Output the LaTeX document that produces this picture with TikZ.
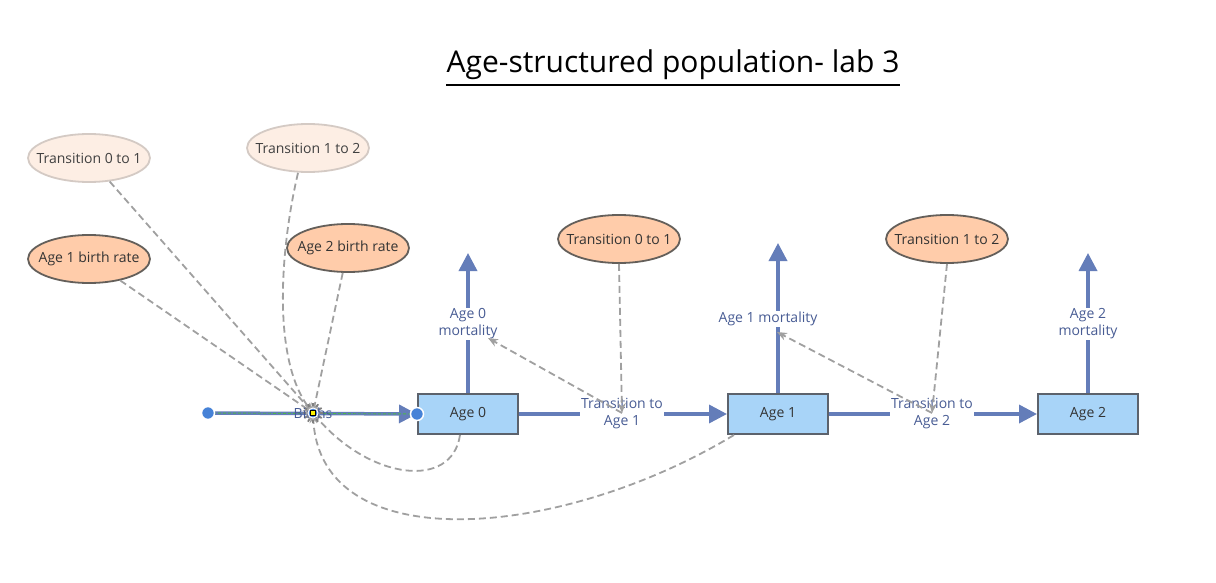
\documentclass[tikz,border=0pt]{standalone}
\usepackage{fontspec}
\setmainfont{Open Sans}
\usetikzlibrary{arrows.meta,shapes.geometric}
\definecolor{flowblue}{RGB}{100,125,185}
\definecolor{labelblue}{RGB}{72,92,148}
\definecolor{boxfill}{RGB}{168,212,248}
\definecolor{boxdraw}{RGB}{92,98,108}
\definecolor{peach}{RGB}{255,204,170}
\definecolor{peachdraw}{RGB}{100,95,90}
\definecolor{fadefill}{RGB}{253,238,228}
\definecolor{fadedraw}{RGB}{212,202,196}
\definecolor{dashgray}{RGB}{160,160,160}
\definecolor{dotblue}{RGB}{70,130,215}
\newcommand{\lblfont}{\fontsize{14}{17}\selectfont}
\tikzset{
  stock/.style={rectangle,draw=boxdraw,fill=boxfill,line width=2pt,minimum width=100pt,minimum height=40pt,inner sep=0pt,font=\lblfont,text=black!80},
  conv/.style={ellipse,draw=peachdraw,fill=peach,line width=1.8pt,minimum width=122pt,minimum height=48pt,inner xsep=-14pt,inner ysep=0pt,font=\lblfont,text=black!80},
  ghost/.style={ellipse,draw=fadedraw,fill=fadefill,line width=1.8pt,minimum width=122pt,minimum height=48pt,inner xsep=-14pt,inner ysep=0pt,font=\lblfont,text=black!75},
  flowlabel/.style={fill=white,inner sep=1pt,align=center,text=labelblue,font=\lblfont},
  flowline/.style={draw=flowblue,line width=3.5pt},
  flowarrow/.style={flowline,-{Triangle[length=18pt,width=18pt]}},
  link/.style={draw=dashgray,line width=1.8pt,dash pattern=on 7pt off 4pt,-{Stealth[length=10pt,width=8pt]}},
  enddot/.style={circle,fill=dotblue,draw=white,line width=1.5pt,minimum size=13pt,inner sep=0pt},
}
\begin{document}
\begin{tikzpicture}[x=1pt,y=-1pt]
\useasboundingbox (0,0) rectangle (1216,583);
% title
\node[inner sep=0pt] (title) at (673,65) {\fontsize{30}{33}\selectfont Age-structured population- lab 3};
\draw[line width=2.2pt] ([yshift=-5pt]title.south west) -- ([yshift=-5pt]title.south east);
% stocks
\node[stock] (a0) at (468,414) {Age 0};
\node[stock] (a1) at (778,414) {Age 1};
\node[stock] (a2) at (1088,414) {Age 2};
% converters
\node[ghost] (g01) at (89,158) {Transition 0 to 1};
\node[ghost] (g12) at (308,148) {Transition 1 to 2};
\node[conv] (b1) at (89,259) {Age 1 birth rate};
\node[conv] (b2) at (348,248) {Age 2 birth rate};
\node[conv] (t01) at (619,239) {Transition 0 to 1};
\node[conv] (t12) at (947,239) {Transition 1 to 2};
% births flow
\coordinate (bsrc) at (208,413);
\coordinate (bv) at (313,413);
\draw[flowarrow] (bsrc) -- (a0.west);
\draw[green!60!black!70,line width=0.9pt,dash pattern=on 3pt off 2pt] (bsrc) -- (a0.west);
% transitions
\coordinate (v1) at (622,413);
\coordinate (v2) at (932,413);
\draw[flowarrow] (a0.east) -- (a1.west);
\draw[flowarrow] (a1.east) -- (a2.west);
% mortality
\coordinate (m0) at (468,253);
\coordinate (m1) at (778,243);
\coordinate (m2) at (1088,253);
\draw[flowarrow] (a0.north) -- (m0);
\draw[flowarrow] (a1.north) -- (m1);
\draw[flowarrow] (a2.north) -- (m2);
\node[flowlabel] (l0) at (468,324) {Age 0\\mortality};
\node[flowlabel] (l1) at (768,319) {Age 1 mortality};
\node[flowlabel] (l2) at (1088,324) {Age 2\\mortality};
\node[flowlabel] (lt1) at (622,414) {Transition to\\Age 1};
\node[flowlabel] (lt2) at (932,414) {Transition to\\Age 2};
% links
\coordinate (mv0) at (488,338);
\coordinate (mv1) at (777,332);
\draw[link] (g01) -- (bv);
\draw[link] (b1) -- (bv);
\draw[link] (b2) -- (bv);
\draw[link] (g12.south) ++(-10,0) .. controls (280,250) and (272,360) .. (bv);
\draw[link] ([xshift=-8pt]a0.south) .. controls (452,490) and (370,480) .. (bv);
\draw[link] ([xshift=7pt]a1.south west) .. controls (560,540) and (320,560) .. (bv);
\draw[link] (t01.south) -- (v1);
\draw[link] (t12.south) -- (v2);
\draw[link] (v1) -- (mv0);
\draw[link] (v2) -- (mv1);
% births valve
\foreach \a in {0,30,...,330}
  \draw[gray,line width=1.8pt] (bv) -- ++(\a:10);
\node[circle,fill=gray!70,minimum size=14pt,inner sep=0pt] (bvg) at (bv) {};
\node[text=labelblue,font=\lblfont] (bl) at (bv) {Births};
\node[circle,fill=dotblue,draw=white,line width=1pt,minimum size=10pt,inner sep=0pt] (bvd) at (bv) {};
\node[rectangle,fill=yellow,draw=black,line width=0.9pt,minimum size=5.5pt,inner sep=0pt] (bvs) at (bv) {};
% end dots
\node[enddot] (d1) at (bsrc) {};
\node[enddot] (d2) at (a0.west) {};
\end{tikzpicture}
\end{document}
